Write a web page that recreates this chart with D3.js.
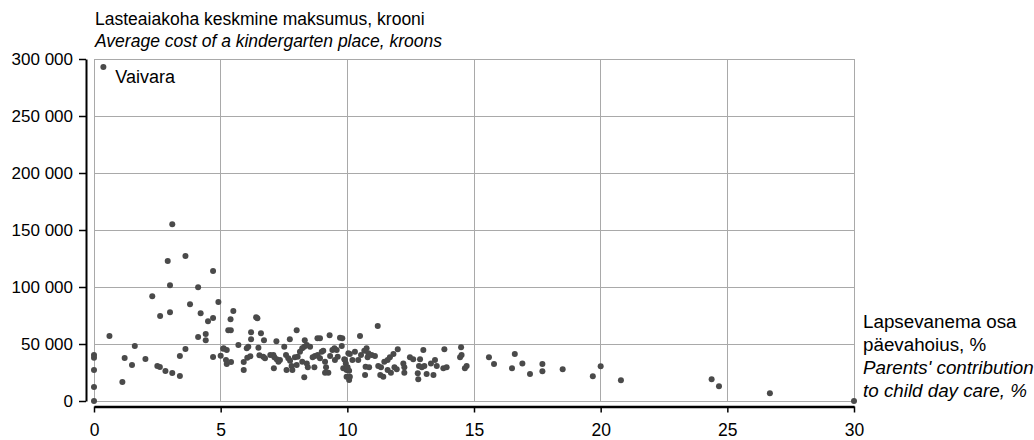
<!DOCTYPE html>
<html>
<head>
<meta charset="utf-8">
<script src="https://cdn.jsdelivr.net/npm/d3@7"></script>
<style>
  html, body { margin: 0; padding: 0; background: #fff; }
  svg { display: block; font-family: "Liberation Sans", Arial, sans-serif; }
</style>
</head>
<body>
<svg id="chart" width="1034" height="440"></svg>
<script>
// Parents' share of day-care cost (%) and average cost per kindergarten place (kroons), one entry per municipality
const parentShare = [
  0.37, 3.09, 2.91, 3.61, 4.70, 3.0, 4.11, 2.30, 4.91, 3.79, 3.0, 2.61, 4.21, 4.5, 4.70, 0.61, 4.11, 4.41, 4.41, 1.61,
  0, 0, 1.21, 2.03, 1.5, 3.39, 3.61, 4.70, 5.0, 5.1, 0, 2.5, 2.6, 2.82, 3.09, 3.39, 1.12, 0, 0, 30,
  5.5, 5.39, 5.3, 5.4, 6.4, 6.45, 6.2, 6.59, 6.2, 6.71, 7.2, 8.0, 7.73, 8.32, 8.82, 8.92, 9.3, 9.71, 9.8, 5.7,
  5.12, 5.24, 5.21, 5.24, 5.41, 6.03, 6.09, 6.05, 6.17, 5.91, 5.91, 6.49, 6.53, 6.68, 6.75, 6.96, 7.08, 7.12, 7.21, 7.28,
  7.34, 7.1, 7.51, 7.58, 7.67, 7.74, 7.93, 7.8, 7.6, 7.83, 8.04, 8.13, 8.22, 8.3, 8.4, 8.53, 8.0, 8.22, 8.4, 8.44,
  8.3, 8.7, 8.63, 8.72, 8.83, 8.92, 8.99, 9.05, 9.12, 9.16, 9.25, 9.12, 9.32, 9.41, 9.49, 9.58, 9.51, 9.62, 9.78, 9.88,
  9.94, 9.84, 9.97, 9.97, 10.04,
  11.2, 10.5, 9.91, 10.01, 10.07, 10.1, 10.07, 10.1, 10.3, 10.2, 10.43, 10.54, 10.67, 10.76, 10.83, 10.8, 10.96, 11.09, 10.72, 10.86,
  10.7, 11.22, 11.33, 11.3, 11.42, 11.46, 11.59, 11.68, 11.82, 11.99, 11.59, 11.72, 11.86, 11.95, 12.21, 12.25, 12.25, 12.47, 12.6, 12.87,
  12.83, 12.94, 13.04, 12.78, 12.8, 13.0, 13.13, 13.4, 13.3, 13.46, 13.53, 13.83, 13.79, 13.92, 14.49, 14.45, 14.51, 14.64, 14.71,
  15.59, 15.79, 16.61, 16.91, 16.5, 17.21, 17.7, 17.7, 18.5, 19.69, 20.0, 20.8, 24.38, 24.67, 26.68
];
const placeCost = [
  293000, 155000, 122800, 127200, 114000, 101500, 99700, 91800, 86800, 84800, 77800, 74600, 76900, 69900, 72800, 57000, 56100, 58800, 53200, 48200,
  40300, 38000, 37700, 36800, 31600, 39500, 45600, 38600, 39700, 45900, 27200, 30700, 29800, 26300, 24600, 21900, 16700, 12300, 0, 0,
  79000, 71700, 62000, 62000, 73400, 72500, 60300, 59400, 54100, 53200, 52400, 62000, 54100, 53200, 55000, 55000, 57600, 55500, 55000, 49100,
  46200, 44700, 36000, 32500, 34200, 46200, 47600, 38000, 39200, 34200, 27200, 46800, 40100, 38900, 37500, 40300, 40300, 38300, 36600, 34500,
  36000, 28700, 47600, 40300, 37500, 35400, 38300, 30700, 27200, 27200, 38900, 43200, 46200, 47600, 49100, 47600, 31600, 34500, 33000, 29600,
  20800, 29600, 38300, 39500, 40300, 37500, 43200, 44100, 34500, 29600, 24800, 24800, 39500, 44700, 46200, 44700, 36000, 38900, 48200, 36600,
  33000, 28700, 27200, 21300, 41800,
  65800, 57000, 36000, 29600, 26600, 21300, 18400, 41200, 43200, 36000, 36000, 40300, 44100, 46200, 41800, 38300, 40300, 39500, 30100, 29600,
  22800, 30700, 29600, 22800, 21300, 34500, 36000, 38300, 41200, 45300, 27200, 24800, 29600, 27800, 33000, 29600, 24800, 38300, 36600, 36600,
  30700, 29600, 30700, 24300, 19000, 44700, 23700, 22800, 33000, 36000, 30700, 45300, 28700, 29600, 47100, 38300, 40300, 28700, 30700,
  38300, 32500, 41200, 33000, 28700, 23700, 32500, 26100, 27800, 21700, 30400, 18100, 19000, 12900, 6700
];

const xTicks = [0, 5, 10, 15, 20, 25, 30];
const yTicks = [0, 50000, 100000, 150000, 200000, 250000, 300000];

const titleLines = [
  { text: "Lasteaiakoha keskmine maksumus, krooni", italic: false },
  { text: "Average cost of a kindergarten place, kroons", italic: true }
];
const xTitleLines = [
  { text: "Lapsevanema osa", italic: false },
  { text: "päevahoius, %", italic: false },
  { text: "Parents' contribution", italic: true },
  { text: "to child day care, %", italic: true }
];
const namedPoints = [{ label: "Vaivara", share: 0.37, cost: 293000 }];

const svg = d3.select("#chart");
const fontSize = 17.5;
const plot = { left: 94, right: 854, top: 59, bottom: 401 };

const x = d3.scaleLinear().domain([0, 30]).range([plot.left, plot.right]);
const y = d3.scaleLinear().domain([0, 300000]).range([plot.bottom, plot.top]);

const fmt = v => d3.format(",")(v).replace(/,/g, " ");

// grid lines and frame
const grid = svg.append("g").attr("stroke", "#a9a9a9").attr("stroke-width", 1).attr("shape-rendering", "crispEdges");
grid.selectAll(".gx").data(xTicks).join("line")
  .attr("x1", d => x(d)).attr("x2", d => x(d))
  .attr("y1", plot.top).attr("y2", plot.bottom);
grid.selectAll(".gy").data(yTicks).join("line")
  .attr("x1", plot.left).attr("x2", plot.right)
  .attr("y1", d => y(d)).attr("y2", d => y(d));

// y axis, set apart to the left of the frame
const yAxis = svg.append("g")
  .attr("transform", "translate(86,0)")
  .call(d3.axisLeft(y).tickValues(yTicks).tickFormat(fmt).tickSize(7).tickSizeOuter(0).tickPadding(6));
yAxis.select(".domain").attr("stroke", "#000").attr("stroke-width", 2);
yAxis.selectAll(".tick line").attr("stroke", "#000").attr("stroke-width", 1.5);
yAxis.selectAll(".tick text").attr("font-size", 17).attr("fill", "#000")
  .attr("font-family", "'Liberation Sans', Arial, sans-serif");

// x axis, set apart below the frame
const xAxis = svg.append("g")
  .attr("transform", "translate(0,406.5)")
  .call(d3.axisBottom(x).tickValues(xTicks).tickSize(6).tickSizeOuter(0));
xAxis.select(".domain").attr("stroke", "#000").attr("stroke-width", 2.5);
xAxis.selectAll(".tick line").attr("stroke", "#000").attr("stroke-width", 1.5);
xAxis.selectAll(".tick text").attr("font-size", 17.5).attr("fill", "#000")
  .attr("font-family", "'Liberation Sans', Arial, sans-serif")
  .attr("dy", null).attr("y", 29.5);

// axis titles
svg.append("g").selectAll("text").data(titleLines).join("text")
  .attr("x", 95).attr("y", (d, i) => 25 + i * 22)
  .attr("font-size", fontSize).attr("font-style", d => d.italic ? "italic" : "normal")
  .attr("fill", "#000").text(d => d.text);

svg.append("g").selectAll("text").data(xTitleLines).join("text")
  .attr("x", 863).attr("y", (d, i) => 328 + i * 23)
  .attr("font-size", 18.8).attr("font-style", d => d.italic ? "italic" : "normal")
  .attr("fill", "#000").text(d => d.text);

// points
const points = parentShare.map((s, i) => ({ share: s, cost: placeCost[i] }));
svg.append("g").selectAll("circle").data(points).join("circle")
  .attr("cx", d => x(d.share)).attr("cy", d => y(d.cost))
  .attr("r", 3).attr("fill", "#4a4a4a");

// point labels
svg.append("g").selectAll("text").data(namedPoints).join("text")
  .attr("x", d => x(d.share) + 12).attr("y", d => y(d.cost) + 16)
  .attr("font-size", 18).attr("fill", "#000").text(d => d.label);
</script>
</body>
</html>
